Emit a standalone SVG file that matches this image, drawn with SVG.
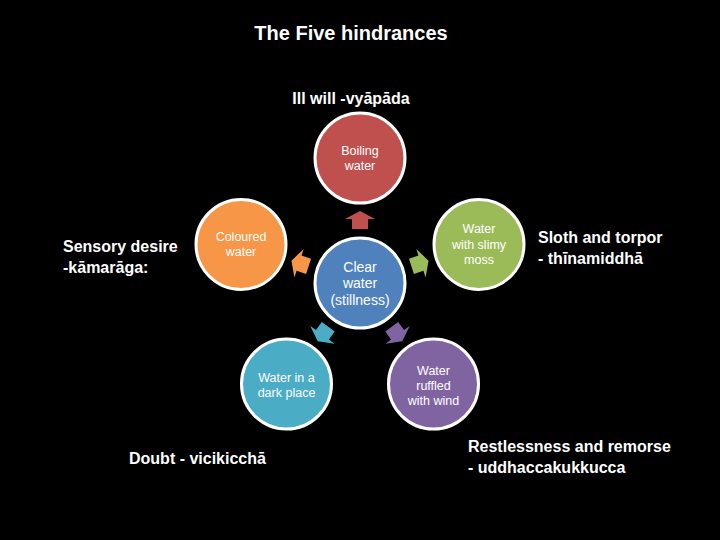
<svg xmlns="http://www.w3.org/2000/svg" width="720" height="540" viewBox="0 0 720 540">
<defs>
<style>
.lbl{font-family:"Liberation Sans",Arial,sans-serif;font-weight:bold;font-size:16px;fill:#fff}
.ttl{font-family:"Liberation Sans",Arial,sans-serif;font-weight:bold;font-size:20px;fill:#fff}
.nt{font-family:"Liberation Sans",Arial,sans-serif;font-size:12.5px;fill:#fff;text-anchor:middle}
.ct{font-family:"Liberation Sans",Arial,sans-serif;font-size:14px;fill:#fff;text-anchor:middle}
.nc{stroke:#fff;stroke-width:3}
</style>
<polygon id="arr" points="0,-9 15,-1 8,-1 8,9 -8,9 -8,-1 -15,-1"/>
</defs>
<rect width="720" height="540" fill="#000"/>
<text class="ttl" x="351" y="40" text-anchor="middle">The Five hindrances</text>
<g id="connectors">
<use href="#arr" fill="#C0504D" transform="translate(360,220)"/>
<use href="#arr" fill="#9BBB59" transform="translate(420,263.5) rotate(72)"/>
<use href="#arr" fill="#8064A2" transform="translate(397,334) rotate(144)"/>
<use href="#arr" fill="#4BACC6" transform="translate(323,334) rotate(216)"/>
<use href="#arr" fill="#F79646" transform="translate(300,263.5) rotate(288)"/>
</g>
<g id="center">
<circle class="nc" cx="360" cy="283" r="45" fill="#4F81BD"/>
<text class="ct" x="360" y="271.5">Clear</text>
<text class="ct" x="360" y="288">water</text>
<text class="ct" x="360" y="304.5">(stillness)</text>
</g>
<g id="boiling">
<circle class="nc" cx="360" cy="158" r="45" fill="#C0504D"/>
<text class="nt" x="360" y="155">Boiling</text>
<text class="nt" x="360" y="170">water</text>
</g>
<g id="moss">
<circle class="nc" cx="479" cy="244.4" r="45" fill="#9BBB59"/>
<text class="nt" x="479" y="233">Water</text>
<text class="nt" x="479" y="248.5">with slimy</text>
<text class="nt" x="479" y="264">moss</text>
</g>
<g id="ruffled">
<circle class="nc" cx="433.5" cy="384" r="45" fill="#8064A2"/>
<text class="nt" x="433.5" y="374.5">Water</text>
<text class="nt" x="433.5" y="389.5">ruffled</text>
<text class="nt" x="433.5" y="404.5">with wind</text>
</g>
<g id="dark">
<circle class="nc" cx="286.5" cy="384" r="45" fill="#4BACC6"/>
<text class="nt" x="286.5" y="382">Water in a</text>
<text class="nt" x="286.5" y="397">dark place</text>
</g>
<g id="coloured">
<circle class="nc" cx="241" cy="244.4" r="45" fill="#F79646"/>
<text class="nt" x="241" y="241">Coloured</text>
<text class="nt" x="241" y="256">water</text>
</g>
<g id="labels">
<text class="lbl" x="351" y="104" text-anchor="middle">Ill will -vyāpāda</text>
<text class="lbl" x="63" y="252">Sensory desire</text>
<text class="lbl" x="63" y="273">-kāmarāga:</text>
<text class="lbl" x="538" y="243">Sloth and torpor</text>
<text class="lbl" x="538" y="264">- thīnamiddhā</text>
<text class="lbl" x="468" y="452">Restlessness and remorse</text>
<text class="lbl" x="468" y="473">- uddhaccakukkucca</text>
<text class="lbl" x="129" y="464">Doubt - vicikicchā</text>
</g>
</svg>
